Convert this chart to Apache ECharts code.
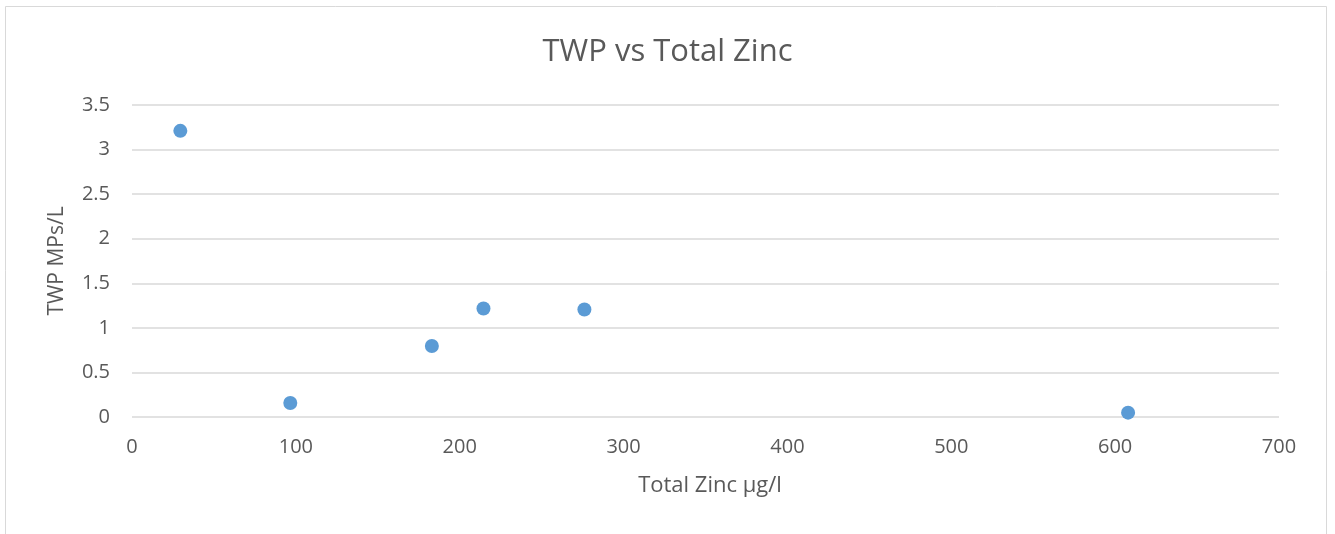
<!DOCTYPE html>
<html>
<head>
<meta charset="utf-8">
<script src="https://cdn.jsdelivr.net/npm/echarts@6/dist/echarts.min.js"></script>
<style>
  html, body { margin: 0; padding: 0; background: #fff; }
  #chart { width: 1335px; height: 534px; }
</style>
</head>
<body>
<div id="chart"></div>
<script>
// Total zinc (µg/l) and TWP microplastics (MPs/L) per sample
const totalZinc = [29.5, 96.6, 183.0, 214.5, 276.1, 607.9];
const twpMPs = [3.21, 0.157, 0.797, 1.217, 1.206, 0.049];

const titleText = 'TWP vs Total Zinc';
const xAxisName = 'Total Zinc µg/l';
const yAxisName = 'TWP MPs/L';

const points = totalZinc.map((x, i) => [x, twpMPs[i]]);

const font = '"Open Sans", "Noto Sans", sans-serif';
const textColor = '#595959';
const gridColor = '#d9d9d9';

const chart = echarts.init(document.getElementById('chart'));
chart.setOption({
  animation: false,
  backgroundColor: '#ffffff',
  graphic: [{
    type: 'rect',
    shape: { x: 5.5, y: 6.5, width: 1321, height: 540 },
    style: { fill: 'none', stroke: '#d9d9d9', lineWidth: 1 },
    silent: true
  }],
  title: {
    text: titleText,
    left: 'center',
    top: 32,
    textStyle: { fontFamily: font, fontSize: 31, fontWeight: 'normal', color: textColor }
  },
  grid: { left: 132, right: 56, top: 105, bottom: 117 },
  xAxis: {
    type: 'value',
    min: 0, max: 700, interval: 100,
    name: xAxisName,
    nameLocation: 'middle',
    nameGap: 58,
    nameTextStyle: { fontFamily: font, fontSize: 22, color: textColor, padding: [0, 0, 0, 9] },
    axisLine: { show: false },
    axisTick: { show: false },
    splitLine: { show: false },
    axisLabel: { fontFamily: font, fontSize: 20, color: textColor, margin: 20 }
  },
  yAxis: {
    type: 'value',
    min: 0, max: 3.5, interval: 0.5,
    name: yAxisName,
    nameLocation: 'middle',
    nameGap: 64,
    nameTextStyle: { fontFamily: font, fontSize: 21, color: textColor },
    axisLine: { show: false },
    axisTick: { show: false },
    splitLine: { show: true, lineStyle: { color: gridColor, width: 1.5 } },
    axisLabel: { fontFamily: font, fontSize: 20, color: textColor, margin: 22 }
  },
  series: [{
    type: 'scatter',
    data: points,
    symbol: 'circle',
    symbolSize: 14,
    itemStyle: { color: '#5b9bd5', opacity: 1 }
  }]
});
</script>
</body>
</html>
